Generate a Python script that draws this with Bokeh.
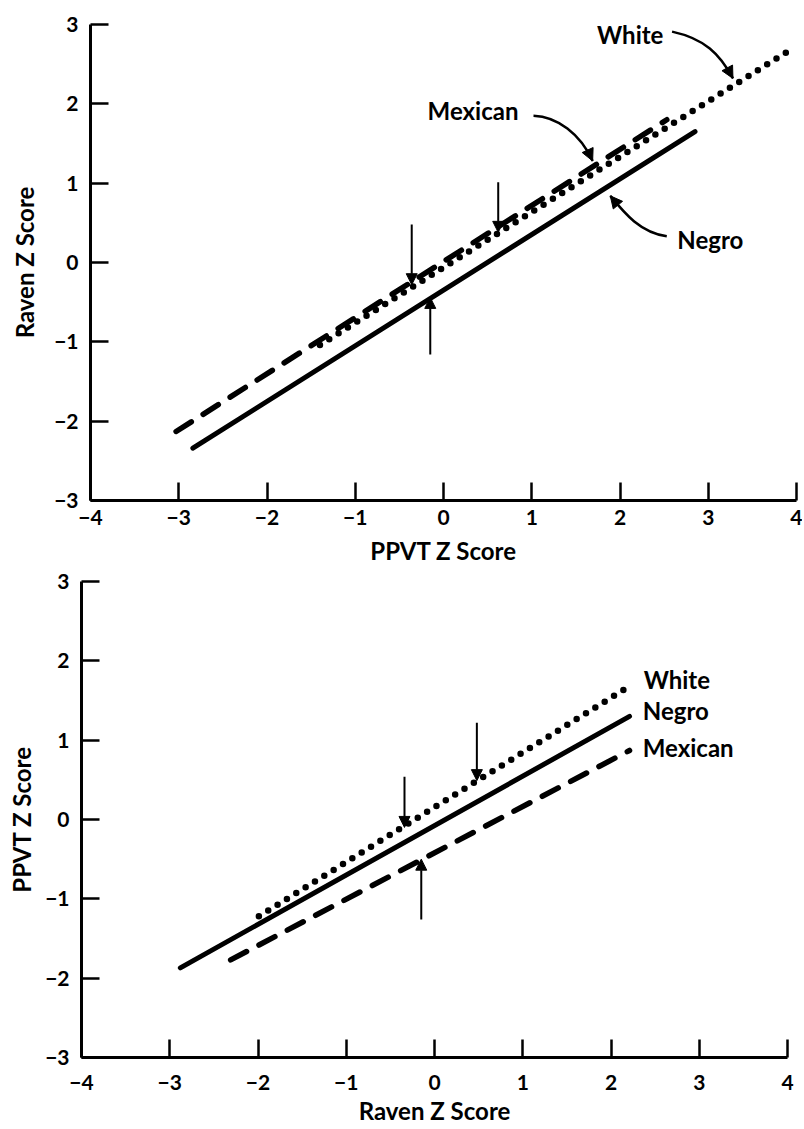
from bokeh.plotting import figure
from bokeh.layouts import column
from bokeh.models import Range1d, FixedTicker, Arrow, NormalHead, ColumnDataSource
from bokeh.core.properties import value
from bokeh.embed import file_html
from bokeh.resources import INLINE

FONT = "Lato"

# ---------------- data ----------------
x_ticks = [-4, -3, -2, -1, 0, 1, 2, 3, 4]
y_ticks = [-3, -2, -1, 0, 1, 2, 3]

# Top panel: x = PPVT z score, y = Raven z score
top_white_x = [-1.40, 3.90]
top_white_y = [-1.04, 2.66]
top_negro_x = [-2.84, 2.85]
top_negro_y = [-2.34, 1.65]
top_mex_x = [-3.03, 2.53]
top_mex_y = [-2.13, 1.80]
# vertical mean arrows: x, tail y, tip y
top_arrow_x = [-0.36, 0.62, -0.15]
top_arrow_tail = [0.48, 1.01, -1.16]
top_arrow_tip = [-0.28, 0.38, -0.44]
# group labels
top_label_text = ["White", "Mexican", "Negro"]
top_label_x = [1.74, -0.18, 2.65]
top_label_y = [2.87, 1.91, 0.29]
# curved leader arrows (bezier): start, ctrl1, ctrl2, end
top_curve_x0 = [2.59, 1.02, 2.53]
top_curve_y0 = [2.91, 1.85, 0.33]
top_curve_cx0 = [2.96, 1.29, 2.23]
top_curve_cy0 = [2.82, 1.84, 0.38]
top_curve_cx1 = [3.13, 1.55, 2.06]
top_curve_cy1 = [2.63, 1.62, 0.61]
top_curve_x1 = [3.28, 1.69, 1.89]
top_curve_y1 = [2.32, 1.28, 0.84]

# Bottom panel: x = Raven z score, y = PPVT z score
bot_white_x = [-1.99, 2.21]
bot_white_y = [-1.22, 1.68]
bot_negro_x = [-2.88, 2.21]
bot_negro_y = [-1.87, 1.30]
bot_mex_x = [-2.31, 2.21]
bot_mex_y = [-1.77, 0.87]
bot_arrow_x = [-0.34, 0.48, -0.15]
bot_arrow_tail = [0.54, 1.22, -1.26]
bot_arrow_tip = [-0.10, 0.49, -0.50]
bot_label_text = ["White", "Negro", "Mexican"]
bot_label_x = [2.37, 2.36, 2.36]
bot_label_y = [1.76, 1.38, 0.91]


def style_axes(p, x_label, y_label, x_std, x_lab_std, y_lab_std):
    p.outline_line_color = None
    p.xgrid.visible = False
    p.ygrid.visible = False
    p.xaxis.ticker = FixedTicker(ticks=x_ticks)
    p.yaxis.ticker = FixedTicker(ticks=y_ticks)
    p.xaxis.axis_label = x_label
    p.yaxis.axis_label = y_label
    for ax in p.axis:
        ax.axis_line_width = 3
        ax.axis_line_color = "black"
        ax.major_tick_line_width = 2.5
        ax.major_tick_line_color = "black"
        ax.major_tick_in = 18
        ax.major_tick_out = 0
        ax.minor_tick_line_color = None
        ax.major_label_text_font = FONT
        ax.major_label_text_font_size = "21px"
        ax.major_label_text_font_style = "bold"
        ax.major_label_text_color = "black"
        ax.axis_label_text_font = FONT
        ax.axis_label_text_font_size = "24px"
        ax.axis_label_text_font_style = "bold"
        ax.axis_label_text_color = "black"
    p.yaxis.major_label_standoff = 12
    p.yaxis.axis_label_standoff = y_lab_std
    p.xaxis.major_label_standoff = x_std
    p.xaxis.axis_label_standoff = x_lab_std


def draw_lines(p, wx, wy, nx, ny, mx, my):
    p.line(wx, wy, line_width=6.5, line_color="black", line_cap="round", line_dash="0 11")
    p.line(nx, ny, line_width=5, line_color="black", line_cap="round")
    p.line(mx, my, line_width=5.5, line_color="black", line_cap="round", line_dash="18 14")


def draw_mean_arrows(p, xs, tails, tips):
    src = ColumnDataSource(dict(x=xs, y0=tails, y1=tips))
    p.add_layout(Arrow(source=src, x_start="x", y_start="y0", x_end="x", y_end="y1",
                       line_width=2, line_color="black",
                       end=NormalHead(size=11, fill_color="black", line_color="black", line_width=1)))


def draw_labels(p, xs, ys, texts):
    p.text(xs, ys, text=texts, text_font=value(FONT), text_font_size="24px",
           text_font_style="bold", text_color="black", text_baseline="middle", text_align="left")


# ---------------- top panel ----------------
p1 = figure(width=802, height=568, x_range=Range1d(-4, 4), y_range=Range1d(-3, 3),
            output_backend="svg", toolbar_location=None, frame_align=False,
            min_border_left=90, min_border_right=6, min_border_top=24, min_border_bottom=68)
style_axes(p1, "PPVT Z Score", "Raven Z Score", 9, 8, 12)
draw_lines(p1, top_white_x, top_white_y, top_negro_x, top_negro_y, top_mex_x, top_mex_y)
draw_mean_arrows(p1, top_arrow_x, top_arrow_tail, top_arrow_tip)
draw_labels(p1, top_label_x, top_label_y, top_label_text)
p1.bezier(x0=top_curve_x0, y0=top_curve_y0, x1=top_curve_x1, y1=top_curve_y1,
          cx0=top_curve_cx0, cy0=top_curve_cy0, cx1=top_curve_cx1, cy1=top_curve_cy1,
          line_width=2.5, line_color="black")
curve_src = ColumnDataSource(dict(xs=top_curve_cx1, ys=top_curve_cy1, xe=top_curve_x1, ye=top_curve_y1))
p1.add_layout(Arrow(source=curve_src, x_start="xs", y_start="ys", x_end="xe", y_end="ye",
                    line_alpha=0,
                    end=NormalHead(size=12, fill_color="black", line_color="black", line_width=1)))

# ---------------- bottom panel ----------------
p2 = figure(width=802, height=560, x_range=Range1d(-4, 4), y_range=Range1d(-3, 3),
            output_backend="svg", toolbar_location=None, frame_align=False,
            min_border_left=81, min_border_right=15, min_border_top=13, min_border_bottom=71)
style_axes(p2, "Raven Z Score", "PPVT Z Score", 17, 3, 6)
draw_lines(p2, bot_white_x, bot_white_y, bot_negro_x, bot_negro_y, bot_mex_x, bot_mex_y)
draw_mean_arrows(p2, bot_arrow_x, bot_arrow_tail, bot_arrow_tip)
draw_labels(p2, bot_label_x, bot_label_y, bot_label_text)

layout = column(p1, p2, spacing=0)

open("out.html", "w").write(file_html(layout, INLINE))
